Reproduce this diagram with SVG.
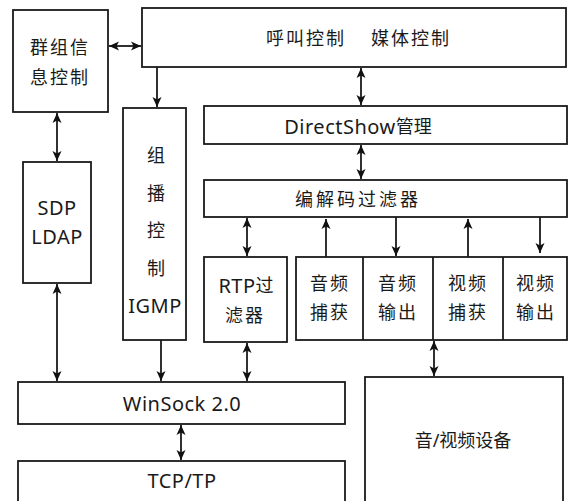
<svg xmlns="http://www.w3.org/2000/svg" width="574" height="501" viewBox="0 0 574 501">
<defs>
<marker id="ah" markerUnits="userSpaceOnUse" markerWidth="10" markerHeight="10" refX="10" refY="5" orient="auto-start-reverse">
<path d="M0,0.5 L10,5 L0,9.5 L2.5,5 z" fill="#111"/>
</marker>
<style>
.box{fill:#fff;stroke:#1a1a1a;stroke-width:1.8}
.t{font-family:"Noto Sans","Noto Sans CJK SC",sans-serif;font-size:18px;fill:#1a1a1a;text-anchor:middle;dominant-baseline:central}
.l{font-size:20px;letter-spacing:0.5px}
.c{stroke:#1a1a1a;stroke-width:1.8;fill:none}
.b{marker-start:url(#ah);marker-end:url(#ah)}
.e{marker-end:url(#ah)}
</style>
</defs>
<rect width="574" height="501" fill="#fff"/>
<g id="group-info">
<rect class="box" x="13" y="10" width="95" height="102"/>
<text class="t" x="60" y="47" letter-spacing="2">群组信</text>
<text class="t" x="60" y="77" letter-spacing="2">息控制</text>
</g>
<g id="call-control">
<rect class="box" x="142" y="8" width="424" height="59"/>
<text class="t" x="306" y="38" letter-spacing="2">呼叫控制</text>
<text class="t" x="411" y="38" letter-spacing="2">媒体控制</text>
</g>
<g id="multicast">
<rect class="box" x="123" y="108" width="63" height="232"/>
<text class="t" x="156" y="155">组</text>
<text class="t" x="156" y="193">播</text>
<text class="t" x="156" y="230">控</text>
<text class="t" x="156" y="268">制</text>
<text class="t l" x="155" y="305">IGMP</text>
</g>
<g id="sdp">
<rect class="box" x="23" y="162" width="68" height="121"/>
<text class="t l" x="57" y="207">SDP</text>
<text class="t l" x="57" y="236">LDAP</text>
</g>
<g id="directshow">
<rect class="box" x="204" y="106" width="363" height="38"/>
<text class="t" x="358" y="126"><tspan class="l">DirectShow</tspan>管理</text>
</g>
<g id="codec">
<rect class="box" x="204" y="180" width="363" height="37"/>
<text class="t" x="358" y="199" letter-spacing="3">编解码过滤器</text>
</g>
<g id="rtp">
<rect class="box" x="204" y="257" width="83" height="85"/>
<text class="t" x="246" y="285"><tspan class="l">RTP</tspan>过</text>
<text class="t" x="245" y="315" letter-spacing="2">滤器</text>
</g>
<g id="media">
<rect class="box" x="296" y="257" width="271" height="83"/>
<line class="c" x1="363" y1="257" x2="363" y2="340"/>
<line class="c" x1="433" y1="257" x2="433" y2="340"/>
<line class="c" x1="503" y1="257" x2="503" y2="340"/>
<text class="t" x="330" y="283" letter-spacing="2">音频</text>
<text class="t" x="330" y="312" letter-spacing="2">捕获</text>
<text class="t" x="398" y="283" letter-spacing="2">音频</text>
<text class="t" x="398" y="312" letter-spacing="2">输出</text>
<text class="t" x="468" y="283" letter-spacing="2">视频</text>
<text class="t" x="468" y="312" letter-spacing="2">捕获</text>
<text class="t" x="536" y="283" letter-spacing="2">视频</text>
<text class="t" x="536" y="312" letter-spacing="2">输出</text>
</g>
<g id="winsock">
<rect class="box" x="18" y="382" width="327" height="42"/>
<text class="t l" x="182" y="403">WinSock 2.0</text>
</g>
<g id="tcp">
<rect class="box" x="18" y="461" width="327" height="50"/>
<text class="t l" x="182" y="480">TCP/TP</text>
</g>
<g id="av-device">
<rect class="box" x="365" y="377" width="198" height="134"/>
<text class="t" x="463" y="440">音/视频设备</text>
</g>
<g id="connectors">
<line class="c b" x1="109" y1="46" x2="141" y2="46"/>
<line class="c e" x1="157" y1="67" x2="157" y2="107"/>
<line class="c b" x1="57" y1="113" x2="57" y2="161"/>
<line class="c b" x1="361" y1="68" x2="361" y2="105"/>
<line class="c b" x1="361" y1="145" x2="361" y2="179"/>
<line class="c b" x1="247" y1="218" x2="247" y2="256"/>
<line class="c e" x1="161" y1="340" x2="161" y2="381"/>
<line class="c b" x1="247" y1="343" x2="247" y2="381"/>
<line class="c b" x1="57" y1="284" x2="57" y2="381"/>
<line class="c b" x1="181" y1="425" x2="181" y2="460"/>
<line class="c e" x1="326" y1="257" x2="326" y2="219"/>
<line class="c e" x1="396" y1="217" x2="396" y2="256"/>
<line class="c e" x1="468" y1="257" x2="468" y2="219"/>
<line class="c e" x1="540" y1="217" x2="540" y2="253"/>
<line class="c b" x1="434" y1="341" x2="434" y2="376"/>
</g>
</svg>
